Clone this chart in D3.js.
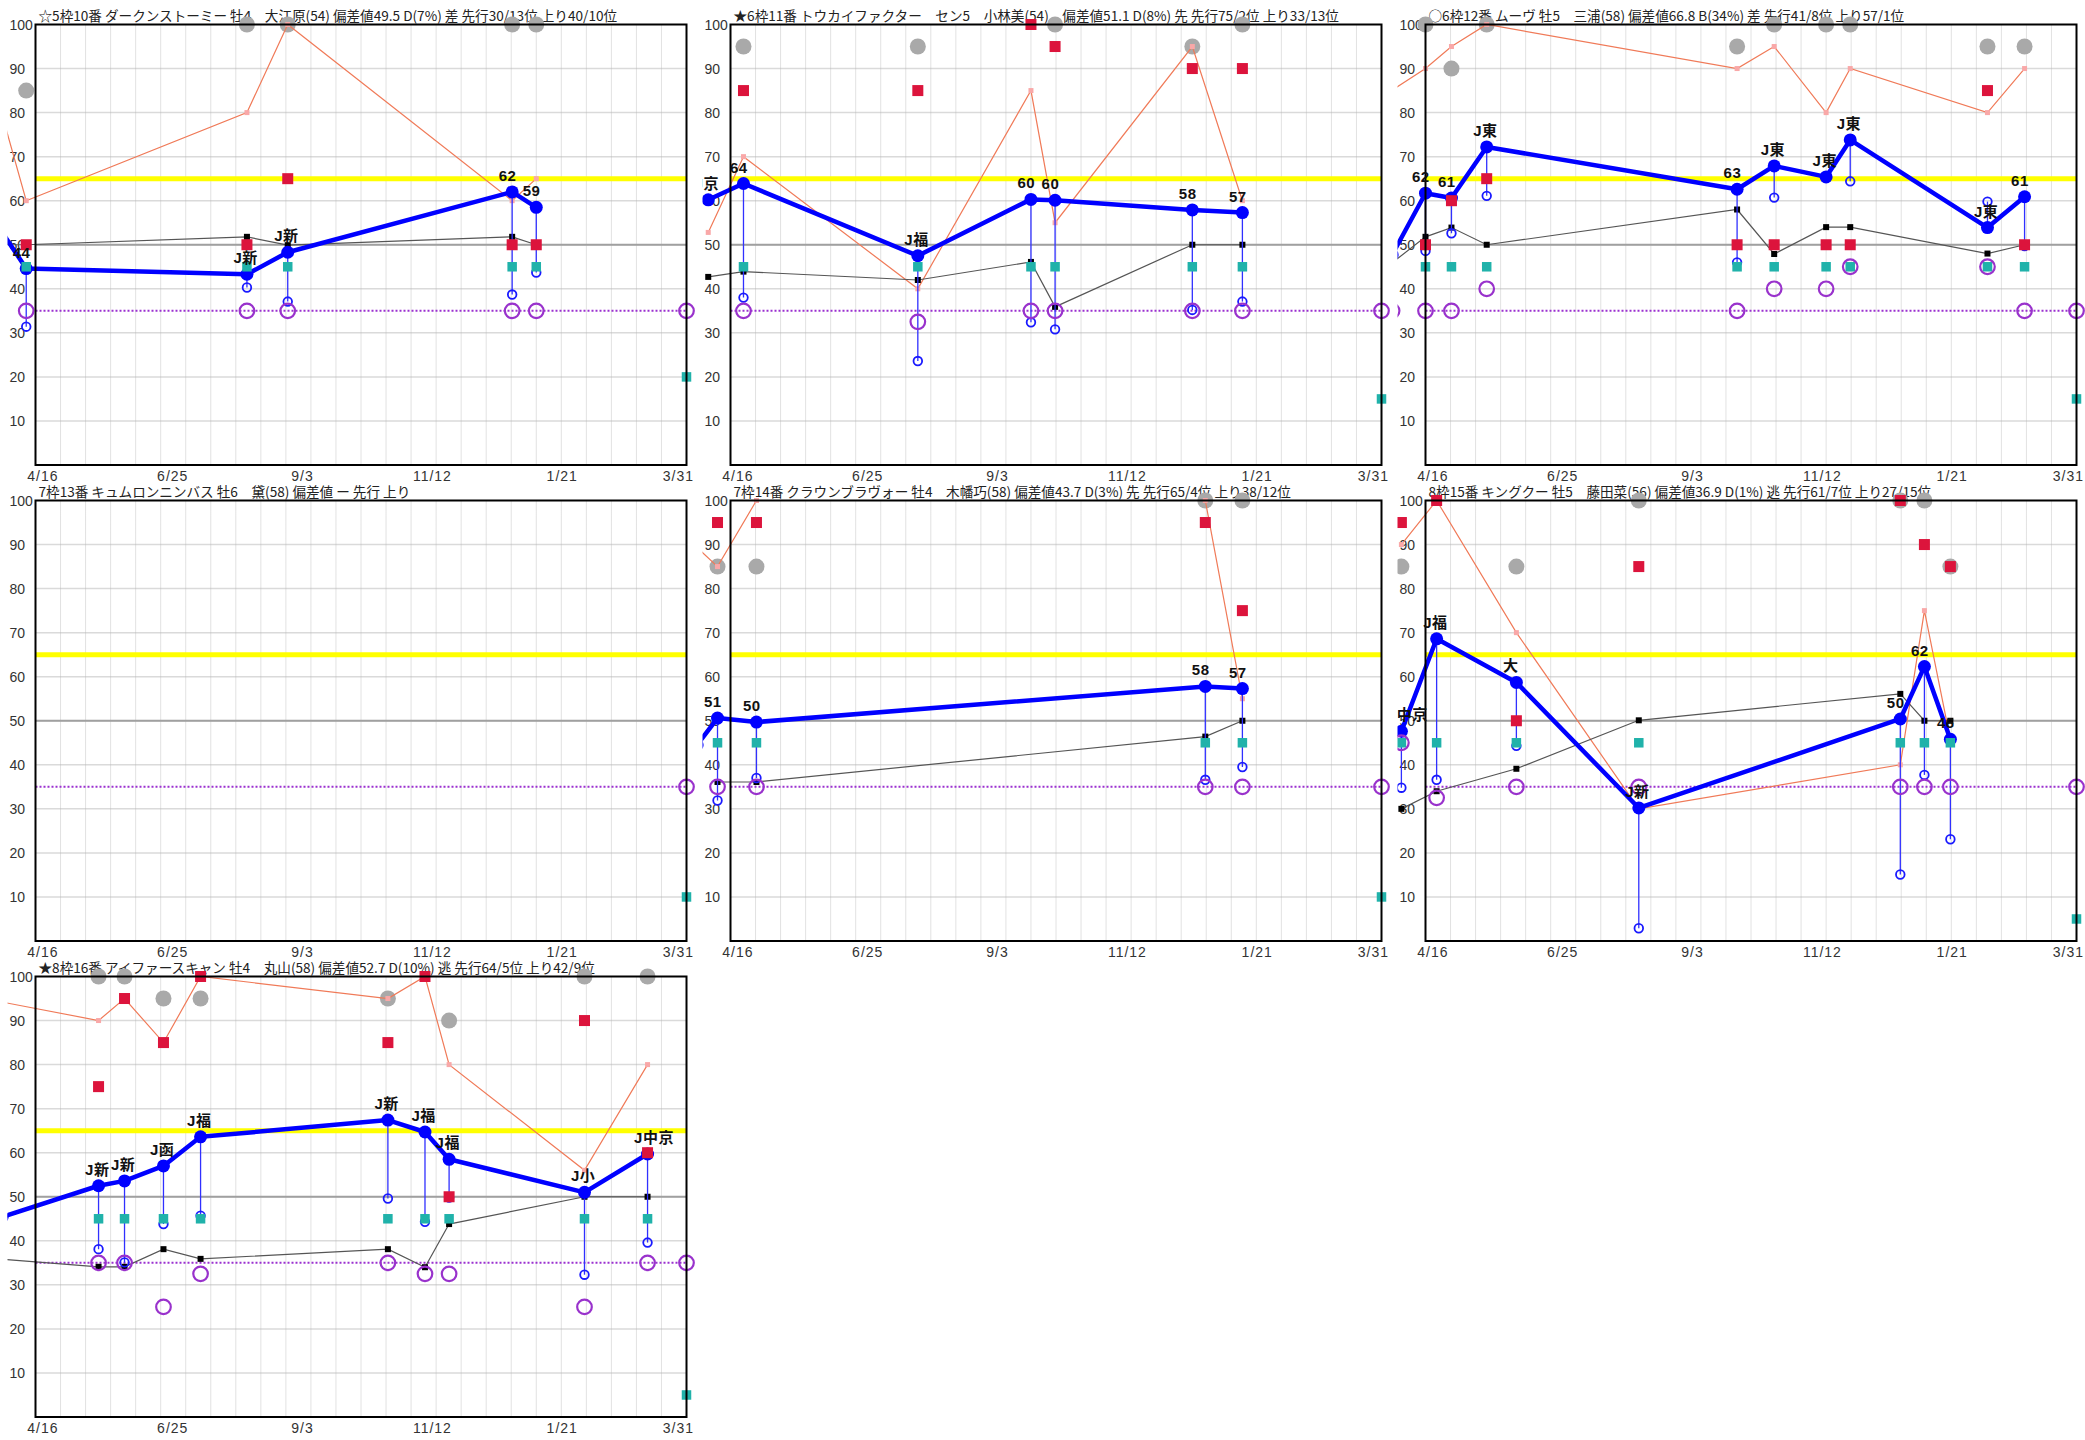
<!DOCTYPE html>
<html>
<head>
<meta charset="utf-8">
<script src="https://cdnjs.cloudflare.com/ajax/libs/d3/7.8.5/d3.min.js"></script>
<style>
  html, body { margin: 0; padding: 0; background: #fff; }
  svg { display: block; background: #fff; }
  .title { font-family: "Noto Sans CJK JP", sans-serif; font-size: 13.6px; fill: #222; }
  .tick { font-family: "Liberation Sans", Arial, sans-serif; font-size: 14px; fill: #333; }
  .lbl { font-family: "Liberation Sans", "Noto Sans CJK JP", sans-serif; font-size: 15px; font-weight: bold; fill: #111; letter-spacing: 0.5px; }
</style>
</head>
<body>
<svg id="chart" width="2085" height="1440"></svg>
<script>

// x range of every panel and the tick dates under it
var xStart = "2020-04-12";
var xEnd = "2021-03-29";
var xTickDates = ["2020-04-16", "2020-06-25", "2020-09-03", "2020-11-12", "2021-01-21", "2021-03-31"];
var yTicks = [10, 20, 30, 40, 50, 60, 70, 80, 90, 100];

// reference levels
var baseLevel = 50, goodLevel = 65, lowLevel = 35;

var titles = [
	"☆5枠10番 ダークンストーミー 牡4　大江原(54) 偏差値49.5 D(7%) 差 先行30/13位 上り40/10位",
	"★6枠11番 トウカイファクター　セン5　小林美(54)　偏差値51.1 D(8%) 先 先行75/2位 上り33/13位",
	"○6枠12番 ムーヴ 牡5　三浦(58) 偏差値66.8 B(34%) 差 先行41/8位 上り57/1位",
	"7枠13番 キュムロンニンバス 牡6　黛(58) 偏差値 ー  先行  上り",
	"7枠14番 クラウンブラヴォー 牡4　木幡巧(58) 偏差値43.7 D(3%) 先 先行65/4位 上り38/12位",
	"8枠15番 キングクー 牡5　藤田菜(56) 偏差値36.9 D(1%) 逃 先行61/7位 上り27/15位",
	"★8枠16番 アイファースキャン 牡4　丸山(58) 偏差値52.7 D(10%) 逃 先行64/5位 上り42/9位"
];

// one inner array per panel, one entry per race (last one is today's race)
var raceDates = [
	["2020-03-20", "2020-04-07", "2020-08-04", "2020-08-26", "2020-12-25", "2021-01-07", "2021-03-29"],
	["2020-03-31", "2020-04-19", "2020-07-22", "2020-09-21", "2020-10-04", "2020-12-17", "2021-01-13", "2021-03-29"],
	["2020-03-25", "2020-04-12", "2020-04-26", "2020-05-15", "2020-09-27", "2020-10-17", "2020-11-14", "2020-11-27", "2021-02-09", "2021-03-01", "2021-03-29"],
	["2021-03-29"],
	["2020-03-25", "2020-04-05", "2020-04-26", "2020-12-24", "2021-01-13", "2021-03-29"],
	["2020-03-30", "2020-04-18", "2020-05-31", "2020-08-05", "2020-12-24", "2021-01-06", "2021-01-20", "2021-03-29"],
	["2020-03-25", "2020-05-16", "2020-05-30", "2020-06-20", "2020-07-10", "2020-10-19", "2020-11-08", "2020-11-21", "2021-02-02", "2021-03-08", "2021-03-29"]
];

var speedIdx = [
	[56, 44.6, 43.3, 48.3, 62.0, 58.5, null],
	[60.2, 63.9, 47.5, 60.3, 60.1, 57.9, 57.3, null],
	[47.7, 61.7, 60.6, 72.2, 62.6, 67.9, 65.4, 73.8, 53.9, 60.9, null],
	[null],
	[44.5, 50.6, 49.7, 57.8, 57.3, null],
	[47.6, 68.6, 58.7, 30.2, 50.4, 62.3, 45.8, null],
	[45.4, 52.5, 53.6, 57, 63.6, 67.4, 64.7, 58.5, 51, 59.7, null]
];

var speedLabels = [
	["", "44", "J新", "J新", "62", "59", ""],
	["J京", "64", "J福", "60", "60", "58", "57", ""],
	["", "62", "61", "J東", "63", "J東", "J東", "J東", "J東", "61", ""],
	[""],
	["", "51", "50", "58", "57", ""],
	["J中京", "J福", "大", "J新", "50", "62", "46", ""],
	["", "J新", "J新", "J函", "J福", "J新", "J福", "J福", "J小", "J中京", ""]
];

var lowIdx = [
	[null, 31.4, 40.3, 37.1, 38.7, 43.7, null],
	[null, 38.0, 23.6, 32.4, 30.8, 35.2, 37.1, null],
	[null, 48.6, 52.6, 61.1, 46, 60.7, null, 64.4, 59.8, 49.7, null],
	[null],
	[null, 31.9, 37, 36.6, 39.5, null],
	[34.8, 36.6, 44.3, 2.9, 15.1, 37.7, 23.1, null],
	[null, 38.1, 35.1, 43.8, 45.7, 49.6, 44.3, 49.8, 32.3, 39.6, null]
];

var paceIdx = [
	[50, 50, 51.8, 49.9, 51.8, 50, null],
	[42.7, 43.9, 42, 46.1, 35.9, 50, 50, null],
	[45.9, 51.8, 53.9, 50, 58, 47.9, 54, 54, 48, 50, null],
	[null],
	[null, 36.1, 36.1, 46.4, 50, null],
	[30, 34, 39.1, 50.1, 56.1, 50, 50, null],
	[35.8, 34.1, 34.1, 38.1, 35.9, 38.1, 34, 43.8, 50, 50, null]
];

var redMarks = [
	[null, 50, 50, 65, 50, 50, null],
	[null, 85, 85, 100, 95, 90, 90, null],
	[null, 50, 60, 65, 50, 50, 50, 50, 85, 50, null],
	[null],
	[null, 95, 95, 95, 75, null],
	[95, 100, 50, 85, 100, 90, 85, null],
	[null, 75, 95, 85, 100, 85, 100, 50, 90, 60, null]
];

var tealMarks = [
	[null, 45, 45, 45, 45, 45, 20],
	[null, 45, 45, 45, 45, 45, 45, 15],
	[null, 45, 45, 45, 45, 45, 45, 45, 45, 45, 15],
	[10],
	[null, 45, 45, 45, 45, 10],
	[45, 45, 45, 45, 45, 45, 45, 5],
	[null, 45, 45, 45, 45, 45, 45, 45, 45, 45, 5]
];

var grayMarks = [
	[null, 85, 100, 100, 100, 100, null],
	[null, 95, 95, null, 100, 95, 100, null],
	[null, 100, 90, 100, 95, 100, 100, 100, 95, 95, null],
	[null],
	[null, 85, 85, 100, 100, null],
	[85, null, 85, 100, 100, 100, 85, null],
	[null, 100, 100, 95, 95, 95, null, 90, 100, 100, null]
];

var orangeLine = [
	[87, 60, 80, 100, 60, 65, null],
	[52.8, 70, 40, 85, 55, 95, 60, null],
	[85.1, 90, 95, 100, 90, 95, 80, 90, 80, 90, null],
	[null],
	[89.3, 85, 100, 100, 55, null],
	[90, 100, 70, 30, 40, 75, 45.7, null],
	[94.2, 90, 95, 85, 100, 95, 100, 80, 56, 80, null]
];

var purpleMarks = [
	[null, 35, 35, 35, 35, 35, 35],
	[null, 35, 32.5, 35, 35, 35, 35, 35],
	[35, 35, 35, 40, 35, 40, 40, 45, 45, 35, 35],
	[35],
	[null, 35, 35, 35, 35, 35],
	[45, 32.5, 35, 35, 35, 35, 35, 35],
	[null, 35, 35, 25, 32.5, 35, 32.5, 32.5, 25, 35, 35]
];

var CELL_W = 695, CELL_H = 476;
var M = {left: 35.5, top: 24.5};
var W = 651, H = 440.5;

var parse = d3.timeParse("%Y-%m-%d");
var fmt = d3.timeFormat("%-m/%-d");

var x = d3.scaleTime().domain([parse(xStart), parse(xEnd)]).range([0, W]);
var y = d3.scaleLinear().domain([0, 100]).range([H, 0]);

var svg = d3.select("#chart");
var defs = svg.append("defs");

/**
 * points of one series of one panel, skipping the empty ones
 */
var pts = function(dates, vals) {
	return dates.map(function(d, k) {
		return {x: x(d), v: vals[k], k: k};
	}).filter(function(p) { return p.v != null; });
}

var squares = function(g, data, size, color) {
	g.selectAll(null).data(data).enter().append("rect")
		.attr("x", function(p) { return p.x - size / 2; })
		.attr("y", function(p) { return y(p.v) - size / 2; })
		.attr("width", size).attr("height", size)
		.attr("fill", color);
}

titles.forEach(function(title, i) {

	var col = i % 3, row = Math.floor(i / 3);
	var dates = raceDates[i].map(parse);

	defs.append("clipPath").attr("id", "clip" + i).append("rect")
		.attr("x", -28).attr("y", -M.top)
		.attr("width", CELL_W - M.left + 28).attr("height", CELL_H + 24);

	var outer = svg.append("g").attr("transform", "translate(" + (col * CELL_W + M.left) + "," + (row * CELL_H + M.top) + ")");
	var g = outer.append("g").attr("clip-path", "url(#clip" + i + ")");

	// grid
	g.selectAll(null).data(d3.range(1, 26)).enter().append("line")
		.attr("x1", function(k) { return k * W / 26; }).attr("x2", function(k) { return k * W / 26; })
		.attr("y1", 0).attr("y2", H)
		.attr("stroke", "#c4c4c4").attr("stroke-width", 1).attr("stroke-dasharray", "1 1");

	g.selectAll(null).data(yTicks.slice(0, 9)).enter().append("line")
		.attr("x1", 0).attr("x2", W)
		.attr("y1", function(v) { return y(v); }).attr("y2", function(v) { return y(v); })
		.attr("stroke", "#b4b4b4").attr("stroke-width", 1.5).attr("stroke-dasharray", "1 1");

	g.append("line").attr("x1", 0).attr("x2", W).attr("y1", y(baseLevel)).attr("y2", y(baseLevel))
		.attr("stroke", "#a0a0a0").attr("stroke-width", 2);
	g.append("line").attr("x1", 0).attr("x2", W).attr("y1", y(goodLevel)).attr("y2", y(goodLevel))
		.attr("stroke", "#ffff00").attr("stroke-width", 5);
	g.append("line").attr("x1", 0).attr("x2", W).attr("y1", y(lowLevel)).attr("y2", y(lowLevel))
		.attr("stroke", "#9b30d0").attr("stroke-width", 2).attr("stroke-dasharray", "2 2");

	// axis labels
	g.selectAll(null).data(yTicks).enter().append("text").attr("class", "tick")
		.attr("x", -26).attr("y", function(v) { return y(v) + 5; })
		.text(function(v) { return v; });

	g.selectAll(null).data(xTickDates).enter().append("text").attr("class", "tick")
		.attr("text-anchor", "middle").attr("letter-spacing", 1)
		.attr("x", function(d) { return x(parse(d)); })
		.attr("y", H + 15.5)
		.text(function(d) { return fmt(parse(d)); })
		.each(function() {
			var w = this.getComputedTextLength();
			var cx = +this.getAttribute("x");
			var maxX = CELL_W - M.left - 1 - w / 2;
			if (cx > maxX) this.setAttribute("x", maxX);
		});

	g.append("text").attr("class", "title").attr("x", 3).attr("y", -4).text(title);

	// gray circles
	g.selectAll(null).data(pts(dates, grayMarks[i])).enter().append("circle")
		.attr("cx", function(p) { return p.x; }).attr("cy", function(p) { return y(p.v); })
		.attr("r", 8).attr("fill", "#a9a9a9");

	// orange line
	var line = d3.line().x(function(p) { return p.x; }).y(function(p) { return y(p.v); });
	var orangePts = pts(dates, orangeLine[i]);
	g.append("path").attr("d", line(orangePts)).attr("fill", "none")
		.attr("stroke", "#f07a58").attr("stroke-width", 1.2);
	squares(g, orangePts, 5, "#f9a8a8");

	// pace line
	var pacePts = pts(dates, paceIdx[i]);
	g.append("path").attr("d", line(pacePts)).attr("fill", "none")
		.attr("stroke", "#555").attr("stroke-width", 1.2);
	squares(g, pacePts, 6, "#000");

	// stems from speed index down to the low index
	var stems = dates.map(function(d, k) {
		return {x: x(d), a: speedIdx[i][k], b: lowIdx[i][k]};
	}).filter(function(s) { return s.a != null && s.b != null; });
	g.selectAll(null).data(stems).enter().append("line")
		.attr("x1", function(s) { return s.x; }).attr("x2", function(s) { return s.x; })
		.attr("y1", function(s) { return y(s.a); }).attr("y2", function(s) { return y(s.b); })
		.attr("stroke", "#3030ff").attr("stroke-width", 1.3);

	// speed index line
	var speedPts = pts(dates, speedIdx[i]);
	g.append("path").attr("d", line(speedPts)).attr("fill", "none")
		.attr("stroke", "#0000ff").attr("stroke-width", 4.5).attr("stroke-linejoin", "round");
	g.selectAll(null).data(speedPts).enter().append("circle")
		.attr("cx", function(p) { return p.x; }).attr("cy", function(p) { return y(p.v); })
		.attr("r", 6.5).attr("fill", "#0000ff");

	g.selectAll(null).data(pts(dates, lowIdx[i])).enter().append("circle")
		.attr("cx", function(p) { return p.x; }).attr("cy", function(p) { return y(p.v); })
		.attr("r", 4.3).attr("fill", "none").attr("stroke", "#1a1aff").attr("stroke-width", 1.8);

	squares(g, pts(dates, redMarks[i]), 11, "#dc143c");
	squares(g, pts(dates, tealMarks[i]), 9.5, "#20b2aa");

	g.selectAll(null).data(pts(dates, purpleMarks[i])).enter().append("circle")
		.attr("cx", function(p) { return p.x; }).attr("cy", function(p) { return y(p.v); })
		.attr("r", 7.3).attr("fill", "none").attr("stroke", "#9932cc").attr("stroke-width", 2.2);

	// frame
	g.append("rect").attr("x", 0).attr("y", 0).attr("width", W).attr("height", H)
		.attr("fill", "none").attr("stroke", "#000").attr("stroke-width", 2);

	// labels over the speed points
	g.selectAll(null).data(speedPts.filter(function(p) { return speedLabels[i][p.k]; })).enter()
		.append("text").attr("class", "lbl")
		.attr("x", function(p) { return p.x - 13.5; })
		.attr("y", function(p) { return y(p.v) - 11; })
		.text(function(p) { return speedLabels[i][p.k]; });
});

</script>
</body>
</html>
